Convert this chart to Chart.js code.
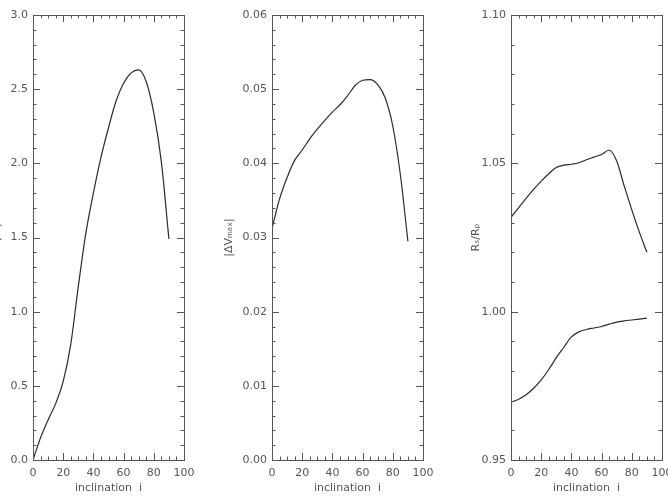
<!DOCTYPE html>
<html>
<head>
<meta charset="utf-8">
<script src="https://cdn.jsdelivr.net/npm/chart.js@4/dist/chart.umd.min.js"></script>
<style>
    html, body { margin: 0; padding: 0; background: #fff; overflow: hidden; width: 668px; height: 498px; position: relative; }
    .panel { position: absolute; top: 0; width: 221px; height: 498px; }
</style>
</head>
<body>
<div class="panel" style="left:-19px"><canvas id="sigmaChart" width="221" height="498"></canvas></div>
<div class="panel" style="left:220px"><canvas id="deltaVChart" width="221" height="498"></canvas></div>
<div class="panel" style="left:459px"><canvas id="radiusChart" width="221" height="498"></canvas></div>
<script>
// inclination grid (degrees)
const inclination = [0, 5, 10, 15, 20, 25, 30, 35, 40, 45, 50, 55, 60, 65, 70, 75, 80, 85, 90];

// left panel: sigma (%)
const sigmaPct = [0, 0.15, 0.27, 0.38, 0.53, 0.78, 1.17, 1.53, 1.80, 2.04, 2.24, 2.42, 2.54, 2.61, 2.63, 2.55, 2.34, 2.01, 1.49];

// middle panel: |dV max|
const deltaVmax = [0.0312, 0.0352, 0.0381, 0.0404, 0.0418, 0.0433, 0.0446, 0.0458, 0.0469, 0.0479,
    0.0491, 0.0505, 0.0512, 0.0513, 0.0506, 0.0488, 0.0450, 0.0385, 0.0295];

// right panel: Rs/Rp, two curves
const radiusRatioUpper = [1.0318, 1.0350, 1.0382, 1.0412, 1.0440, 1.0465, 1.0486, 1.0494, 1.0497, 1.0502,
    1.0512, 1.0521, 1.0530, 1.0545, 1.0508, 1.0423, 1.0343, 1.0268, 1.0200];
const radiusRatioLower = [0.9695, 0.9705, 0.9720, 0.9742, 0.9770, 0.9805, 0.9845, 0.9880, 0.9915, 0.9932,
    0.9940, 0.9945, 0.9950, 0.9958, 0.9965, 0.9969, 0.9972, 0.9975, 0.9978];

const AXIS_COLOR = '#555';
const TEXT_COLOR = '#555';
const LINE_COLOR = '#2b2b2b';
const FONT = { family: 'DejaVu Sans', size: 11 };

function toPoints(values) {
    return values.map((v, i) => ({ x: inclination[i], y: v }));
}

// frame + inward major/minor ticks on all four sides
const frameTicks = {
    id: 'frameTicks',
    afterDraw(chart, args, opts) {
        const { ctx, chartArea: a, scales } = chart;
        ctx.save();
        ctx.strokeStyle = AXIS_COLOR;
        ctx.lineWidth = 1;
        ctx.strokeRect(Math.round(a.left) + 0.5, Math.round(a.top) + 0.5,
            Math.round(a.right - a.left), Math.round(a.bottom - a.top));

        function marks(scale, minor, every, horizontal) {
            const n = Math.round((scale.max - scale.min) / minor);
            ctx.beginPath();
            for (let k = 0; k <= n; k++) {
                const len = (k % every === 0) ? 7 : 3.5;
                const p = Math.round(scale.getPixelForValue(scale.min + k * minor)) + 0.5;
                if (horizontal) {
                    ctx.moveTo(p, a.bottom); ctx.lineTo(p, a.bottom - len);
                    ctx.moveTo(p, a.top); ctx.lineTo(p, a.top + len);
                } else {
                    ctx.moveTo(a.left, p); ctx.lineTo(a.left + len, p);
                    ctx.moveTo(a.right, p); ctx.lineTo(a.right - len, p);
                }
            }
            ctx.stroke();
        }
        marks(scales.x, 5, 4, true);
        marks(scales.y, opts.yMinor, opts.yEvery, false);
        ctx.restore();
    }
};

function makeChart(id, datasets, yOpts) {
    return new Chart(document.getElementById(id).getContext('2d'), {
        type: 'line',
        data: {
            datasets: datasets.map(d => ({
                data: toPoints(d),
                borderColor: LINE_COLOR,
                borderWidth: 1.2,
                pointRadius: 0,
                cubicInterpolationMode: 'monotone',
                fill: false
            }))
        },
        options: {
            responsive: false,
            animation: false,
            layout: { padding: { top: 15, right: 18, left: 0, bottom: 0 } },
            plugins: {
                legend: { display: false },
                tooltip: { enabled: false },
                frameTicks: { yMinor: yOpts.minor, yEvery: yOpts.every }
            },
            scales: {
                x: {
                    type: 'linear',
                    min: 0,
                    max: 100,
                    grid: { display: false, drawTicks: false },
                    border: { display: false },
                    ticks: { stepSize: 20, color: TEXT_COLOR, font: FONT, padding: 7, maxRotation: 0 },
                    title: { display: true, text: 'inclination  i', color: TEXT_COLOR, font: FONT, padding: { top: 0, bottom: 3 } },
                    afterFit: scale => { scale.height = 38; }
                },
                y: {
                    min: yOpts.min,
                    max: yOpts.max,
                    grid: { display: false, drawTicks: false },
                    border: { display: false },
                    ticks: {
                        stepSize: yOpts.step,
                        color: TEXT_COLOR,
                        font: FONT,
                        padding: 5,
                        callback: v => v.toFixed(yOpts.decimals)
                    },
                    title: { display: true, text: yOpts.title, color: TEXT_COLOR, font: FONT, padding: { top: yOpts.titlePad, bottom: 0 } },
                    afterFit: scale => { scale.width = 52; }
                }
            }
        },
        plugins: [frameTicks]
    });
}

makeChart('sigmaChart', [sigmaPct],
    { min: 0, max: 3, step: 0.5, minor: 0.1, every: 5, decimals: 1, title: 'σ (%)', titlePad: 10 });
makeChart('deltaVChart', [deltaVmax],
    { min: 0, max: 0.06, step: 0.01, minor: 0.002, every: 5, decimals: 2, title: '|ΔVₘₐₓ|', titlePad: 3 });
makeChart('radiusChart', [radiusRatioUpper, radiusRatioLower],
    { min: 0.95, max: 1.10, step: 0.05, minor: 0.01, every: 5, decimals: 2, title: 'Rₛ/Rₚ', titlePad: 11 });
</script>
</body>
</html>
